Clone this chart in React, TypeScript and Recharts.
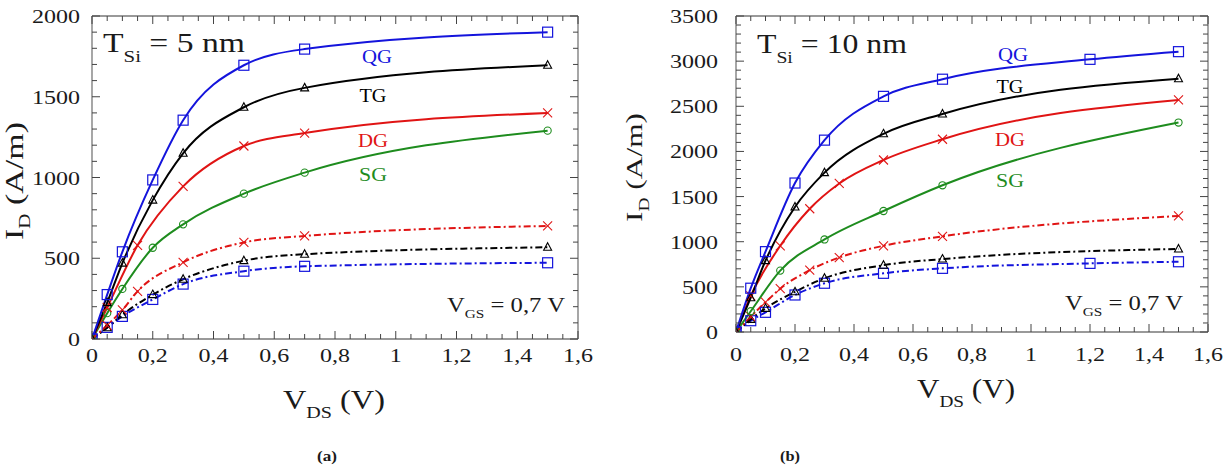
import React from "react";
import { LineChart, Line, XAxis, YAxis } from "recharts";

// colours
const BLUE = "#1414dc";
const BLACK = "#000000";
const RED = "#e01414";
const GREEN = "#1e8c1e";
const INK = "#1a1a1a";
const FONT = '"Liberation Serif", "Times New Roman", "DejaVu Serif Condensed", "DejaVu Serif", serif';

// ---- panel (a): T_Si = 5 nm ----
const vdsA = [0, 0.05, 0.1, 0.2, 0.3, 0.5, 0.7, 1.5];
const vdsADg = [0, 0.05, 0.15, 0.3, 0.5, 0.7, 1.5];
const vdsADgDash = [0, 0.05, 0.1, 0.15, 0.3, 0.5, 0.7, 1.5];
const qgA = [0, 275, 540, 985, 1355, 1695, 1795, 1900];
const tgA = [0, 225, 470, 860, 1150, 1435, 1555, 1695];
const dgA = [0, 195, 580, 945, 1195, 1275, 1400];
const sgA = [0, 160, 310, 565, 710, 900, 1030, 1290];
const qgADash = [0, 72, 140, 245, 340, 420, 450, 472];
const tgADash = [0, 70, 150, 275, 370, 485, 525, 568];
const dgADash = [0, 85, 180, 295, 475, 598, 638, 700];

// ---- panel (b): T_Si = 10 nm ----
const vdsB = [0, 0.05, 0.1, 0.2, 0.3, 0.5, 0.7, 1.5];
const vdsBQg = [0, 0.05, 0.1, 0.2, 0.3, 0.5, 0.7, 1.2, 1.5];
const vdsBDg = [0, 0.05, 0.15, 0.25, 0.35, 0.5, 0.7, 1.5];
const vdsBSg = [0, 0.05, 0.15, 0.3, 0.5, 0.7, 1.5];
const vdsBDgDash = [0, 0.05, 0.1, 0.15, 0.25, 0.35, 0.5, 0.7, 1.5];
const qgB = [0, 485, 890, 1650, 2125, 2610, 2800, 3020, 3105];
const tgB = [0, 380, 790, 1385, 1765, 2195, 2415, 2805];
const dgB = [0, 400, 955, 1365, 1645, 1905, 2135, 2570];
const sgB = [0, 230, 680, 1025, 1340, 1625, 2320];
const qgBDash = [0, 125, 218, 410, 540, 650, 705, 760, 778];
const tgBDash = [0, 140, 262, 445, 595, 740, 808, 920];
const dgBDash = [0, 170, 330, 480, 685, 825, 955, 1060, 1285];

// axis ticks (minor every 0.05 / 100, labelled every 0.2 / 500)
const xTicks = Array.from({ length: 33 }, (_, i) => (i * 5) / 100);
const yTicksA = Array.from({ length: 21 }, (_, i) => i * 100);
const yTicksB = Array.from({ length: 36 }, (_, i) => i * 100);

type Shape = "square" | "triangle" | "cross" | "circle";
interface Series {
  key: string;
  xs: number[];
  ys: number[];
  color: string;
  shape: Shape;
  dashed: boolean;
}

const seriesA: Series[] = [
  { key: "qgDash", xs: vdsA, ys: qgADash, color: BLUE, shape: "square", dashed: true },
  { key: "tgDash", xs: vdsA, ys: tgADash, color: BLACK, shape: "triangle", dashed: true },
  { key: "dgDash", xs: vdsADgDash, ys: dgADash, color: RED, shape: "cross", dashed: true },
  { key: "sg", xs: vdsA, ys: sgA, color: GREEN, shape: "circle", dashed: false },
  { key: "dg", xs: vdsADg, ys: dgA, color: RED, shape: "cross", dashed: false },
  { key: "tg", xs: vdsA, ys: tgA, color: BLACK, shape: "triangle", dashed: false },
  { key: "qg", xs: vdsA, ys: qgA, color: BLUE, shape: "square", dashed: false },
];

const seriesB: Series[] = [
  { key: "qgDash", xs: vdsBQg, ys: qgBDash, color: BLUE, shape: "square", dashed: true },
  { key: "tgDash", xs: vdsB, ys: tgBDash, color: BLACK, shape: "triangle", dashed: true },
  { key: "dgDash", xs: vdsBDgDash, ys: dgBDash, color: RED, shape: "cross", dashed: true },
  { key: "sg", xs: vdsBSg, ys: sgB, color: GREEN, shape: "circle", dashed: false },
  { key: "dg", xs: vdsBDg, ys: dgB, color: RED, shape: "cross", dashed: false },
  { key: "tg", xs: vdsB, ys: tgB, color: BLACK, shape: "triangle", dashed: false },
  { key: "qg", xs: vdsBQg, ys: qgB, color: BLUE, shape: "square", dashed: false },
];

const fmtX = (v: number) => (v === 0 ? "0" : String(v).replace(".", ","));
const isMajorX = (v: number) => Math.round(v * 100) % 20 === 0;
const isMajorY = (v: number) => v % 500 === 0;
const labelWidth = (s: string) => s.split("").reduce((w, c) => w + (c === "," ? 6 : 12), 0);
const TICK = "#444";
const FRAME = { stroke: "#777", strokeWidth: 1.3 };

const makeMarker = (shape: Shape, color: string) => (props: any) => {
  const { cx, cy, index } = props;
  const k = `m-${index}`;
  if (cx == null || cy == null) return <g key={k} />;
  if (shape === "square")
    return <rect key={k} x={cx - 5} y={cy - 5} width={10} height={10} fill="none" stroke={color} strokeWidth={1.2} />;
  if (shape === "triangle")
    return (
      <polygon key={k} points={`${cx},${cy - 4.5} ${cx + 4},${cy + 3} ${cx - 4},${cy + 3}`} fill="none" stroke={color} strokeWidth={1.1} />
    );
  if (shape === "cross")
    return (
      <g key={k} stroke={color} strokeWidth={1.1}>
        <line x1={cx - 4.5} y1={cy - 4.5} x2={cx + 4.5} y2={cy + 4.5} />
        <line x1={cx - 4.5} y1={cy + 4.5} x2={cx + 4.5} y2={cy - 4.5} />
      </g>
    );
  return <circle key={k} cx={cx} cy={cy} r={3.6} fill="none" stroke={color} strokeWidth={1.1} />;
};

const tickText = (x: number, y: number, anchor: "middle" | "end", label: string) => (
  <text
    x={x}
    y={y}
    textAnchor={anchor}
    fontFamily={FONT}
    fontSize={19}
    fill={INK}
    textLength={labelWidth(label)}
    lengthAdjust="spacingAndGlyphs"
  >
    {label}
  </text>
);

interface PanelProps {
  left: number;
  width: number;
  height: number;
  yMax: number;
  yTicks: number[];
  yAxisW: number;
  rightW: number;
  topH: number;
  bottomH: number;
  xLabelGap: number;
  yLabelGap: number;
  series: Series[];
}

const Panel: React.FC<PanelProps> = (p) => {
  const BottomTick = (t: any) => {
    const v = t.payload.value;
    const major = isMajorX(v);
    return (
      <g>
        <line x1={t.x} x2={t.x} y1={t.y} y2={t.y - (major ? 8 : 5)} stroke={TICK} />
        {major && tickText(t.x, t.y + p.xLabelGap, "middle", fmtX(v))}
      </g>
    );
  };
  const TopTick = (t: any) => {
    const major = isMajorX(t.payload.value);
    return <line x1={t.x} x2={t.x} y1={t.y} y2={t.y + (major ? 8 : 5)} stroke={TICK} />;
  };
  const LeftTick = (t: any) => {
    const v = t.payload.value;
    const major = isMajorY(v);
    return (
      <g>
        <line x1={t.x} x2={t.x + (major ? 8 : 5)} y1={t.y} y2={t.y} stroke={TICK} />
        {major && tickText(t.x - p.yLabelGap, t.y + 7, "end", String(v))}
      </g>
    );
  };
  const RightTick = (t: any) => {
    const major = isMajorY(t.payload.value);
    return <line x1={t.x} x2={t.x - (major ? 8 : 5)} y1={t.y} y2={t.y} stroke={TICK} />;
  };

  return (
    <div style={{ position: "absolute", left: p.left, top: 0 }}>
      <LineChart width={p.width} height={p.height} margin={{ top: 0, right: 0, bottom: 0, left: 0 }}>
        <XAxis
          xAxisId="bottom"
          type="number"
          dataKey="x"
          domain={[0, 1.6]}
          allowDataOverflow
          ticks={xTicks}
          interval={0}
          height={p.bottomH}
          tickSize={0}
          tickMargin={0}
          tickLine={false}
          axisLine={FRAME}
          tick={BottomTick}
        />
        <XAxis
          xAxisId="top"
          orientation="top"
          type="number"
          dataKey="x"
          domain={[0, 1.6]}
          allowDataOverflow
          ticks={xTicks}
          interval={0}
          height={p.topH}
          tickSize={0}
          tickMargin={0}
          tickLine={false}
          axisLine={FRAME}
          tick={TopTick}
        />
        <YAxis
          yAxisId="left"
          type="number"
          domain={[0, p.yMax]}
          allowDataOverflow
          ticks={p.yTicks}
          interval={0}
          width={p.yAxisW}
          tickSize={0}
          tickMargin={0}
          tickLine={false}
          axisLine={FRAME}
          tick={LeftTick}
        />
        <YAxis
          yAxisId="right"
          orientation="right"
          type="number"
          domain={[0, p.yMax]}
          allowDataOverflow
          ticks={p.yTicks}
          interval={0}
          width={p.rightW}
          tickSize={0}
          tickMargin={0}
          tickLine={false}
          axisLine={FRAME}
          tick={RightTick}
        />
        {p.series.map((s) => (
          <Line
            key={s.key}
            xAxisId="bottom"
            yAxisId="left"
            type="monotone"
            data={s.xs.map((x, i) => ({ x, y: s.ys[i] }))}
            dataKey="y"
            stroke={s.color}
            strokeWidth={2}
            strokeDasharray={s.dashed ? "7 3 2 3" : undefined}
            dot={makeMarker(s.shape, s.color)}
            activeDot={false}
            isAnimationActive={false}
          />
        ))}
      </LineChart>
    </div>
  );
};

// text with a subscript, squeezed to a fixed length so the look does not depend on the font found
const Label: React.FC<{
  x: number;
  y: number;
  size: number;
  main: string;
  sub?: string;
  rest?: string;
  len: number;
  color?: string;
  anchor?: "start" | "middle";
  rotate?: boolean;
  drop?: number;
  bold?: boolean;
}> = ({ x, y, size, main, sub, rest, len, color = INK, anchor = "start", rotate, drop = 9, bold }) => (
  <text
    x={0}
    y={0}
    transform={rotate ? `translate(${x},${y}) rotate(-90)` : `translate(${x},${y})`}
    fontFamily={FONT}
    fontSize={size}
    fontWeight={bold ? "bold" : "normal"}
    fill={color}
    textAnchor={anchor}
    textLength={len}
    lengthAdjust="spacingAndGlyphs"
  >
    {main}
    {sub && (
      <tspan fontSize={size * 0.62} dy={drop}>
        {sub}
      </tspan>
    )}
    {rest && <tspan dy={sub ? -drop : 0}>{rest}</tspan>}
  </text>
);

export default function App() {
  return (
    <div style={{ position: "absolute", left: 0, top: 0, width: 1230, height: 475, background: "#fff", overflow: "hidden" }}>
      <Panel
        left={0}
        width={600}
        height={420}
        yMax={2000}
        yTicks={yTicksA}
        yAxisW={92}
        rightW={22}
        topH={16}
        bottomH={81}
        xLabelGap={23}
        yLabelGap={12}
        series={seriesA}
      />
      <Panel
        left={620}
        width={610}
        height={420}
        yMax={3500}
        yTicks={yTicksB}
        yAxisW={116}
        rightW={22}
        topH={16}
        bottomH={88}
        xLabelGap={29}
        yLabelGap={18}
        series={seriesB}
      />

      <svg width={1230} height={475} style={{ position: "absolute", left: 0, top: 0, pointerEvents: "none" }}>
        {/* panel (a) */}
        <Label x={103} y={52} size={27} main="T" sub="Si" rest=" = 5 nm" len={142} drop={10} />
        <Label x={377} y={63} size={18} main="QG" len={30} color={BLUE} anchor="middle" />
        <Label x={373} y={102} size={18} main="TG" len={27} color={BLACK} anchor="middle" />
        <Label x={373} y={147} size={18} main="DG" len={30} color={RED} anchor="middle" />
        <Label x={373} y={181} size={18} main="SG" len={28} color={GREEN} anchor="middle" />
        <Label x={447} y={312} size={20} main="V" sub="GS" rest=" = 0,7 V" len={118} drop={6} />
        <Label x={283} y={409} size={27} main="V" sub="DS" rest=" (V)" len={102} drop={9} />
        <Label x={23} y={240} size={26} main="I" sub="D" rest=" (A/m)" len={118} rotate drop={7} />
        <Label x={327} y={461} size={14} main="(a)" len={20} anchor="middle" bold />

        {/* panel (b) */}
        <Label x={757} y={53} size={27} main="T" sub="Si" rest=" = 10 nm" len={150} drop={10} />
        <Label x={1013} y={61} size={18} main="QG" len={30} color={BLUE} anchor="middle" />
        <Label x={1010} y={93} size={18} main="TG" len={27} color={BLACK} anchor="middle" />
        <Label x={1010} y={146} size={18} main="DG" len={30} color={RED} anchor="middle" />
        <Label x={1010} y={187} size={18} main="SG" len={28} color={GREEN} anchor="middle" />
        <Label x={1065} y={310} size={20} main="V" sub="GS" rest=" = 0,7 V" len={118} drop={6} />
        <Label x={917} y={398} size={27} main="V" sub="DS" rest=" (V)" len={98} drop={9} />
        <Label x={642} y={222} size={24} main="I" sub="D" rest=" (A/m)" len={109} rotate drop={7} />
        <Label x={790} y={461} size={14} main="(b)" len={20} anchor="middle" bold />
      </svg>
    </div>
  );
}
